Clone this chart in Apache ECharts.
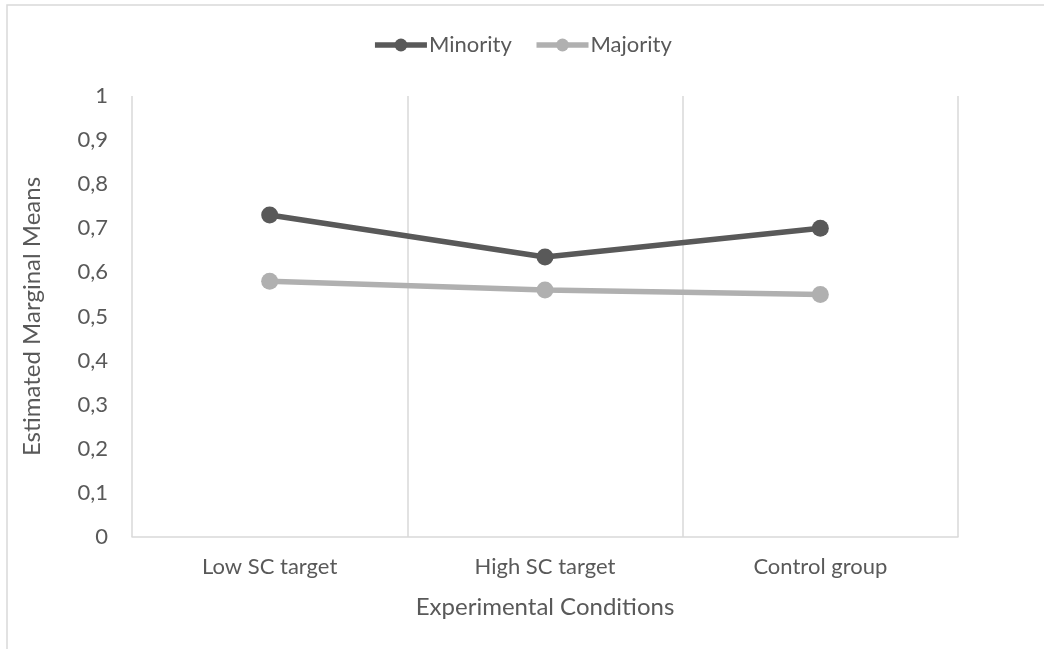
<!DOCTYPE html>
<html>
<head>
<meta charset="utf-8">
<script src="https://cdn.jsdelivr.net/npm/echarts@6/dist/echarts.min.js"></script>
<style>
  html, body { margin: 0; padding: 0; background: #fff; }
  #chart { width: 1044px; height: 649px; }
</style>
</head>
<body>
<div id="chart"></div>
<script>
// Estimated marginal means by experimental condition
const conditions = ['Low SC target', 'High SC target', 'Control group'];
const minority = [0.73, 0.635, 0.70];
const majority = [0.58, 0.56, 0.55];
const yTicks = { min: 0, max: 1, interval: 0.1 };

const textColor = '#595959';
const gridColor = '#d9d9d9';
const fontFamily = 'Lato, "Open Sans", sans-serif';

const chart = echarts.init(document.getElementById('chart'));
chart.setOption({
  animation: false,
  textStyle: { fontFamily: fontFamily, color: textColor },
  graphic: [{
    type: 'rect',
    shape: { x: 7, y: 5, width: 1100, height: 700 },
    style: { fill: 'none', stroke: gridColor, lineWidth: 1.5 },
    silent: true
  }],
  legend: {
    top: 29,
    left: 'center',
    itemWidth: 52,
    itemHeight: 16,
    itemGap: 22,
    lineStyle: { width: 5.5 },
    textStyle: { fontSize: 22, color: textColor, fontFamily: fontFamily, padding: [0, 0, 0, -3] },
    data: ['Minority', 'Majority']
  },
  grid: { left: 132, right: 86, top: 96, bottom: 112 },
  xAxis: {
    type: 'category',
    data: conditions,
    boundaryGap: true,
    name: 'Experimental Conditions',
    nameLocation: 'middle',
    nameGap: 58,
    nameTextStyle: { fontSize: 24, color: textColor },
    axisLine: { lineStyle: { color: gridColor, width: 1.5 } },
    axisTick: { show: false },
    axisLabel: { fontSize: 22, color: textColor, margin: 19 },
    splitLine: { show: true, lineStyle: { color: gridColor, width: 1.5 } }
  },
  yAxis: {
    type: 'value',
    min: yTicks.min,
    max: yTicks.max,
    interval: yTicks.interval,
    name: 'Estimated Marginal Means',
    nameLocation: 'middle',
    nameGap: 88,
    nameTextStyle: { fontSize: 24, color: textColor },
    axisLine: { show: false },
    axisTick: { show: false },
    splitLine: { show: false },
    axisLabel: {
      fontSize: 22,
      color: textColor,
      margin: 24,
      formatter: v => String(Math.round(v * 10) / 10).replace('.', ',')
    }
  },
  series: [
    {
      name: 'Minority',
      type: 'line',
      data: minority,
      symbol: 'circle',
      symbolSize: 17,
      lineStyle: { color: '#595959', width: 5.5 },
      itemStyle: { color: '#595959' }
    },
    {
      name: 'Majority',
      type: 'line',
      data: majority,
      symbol: 'circle',
      symbolSize: 17,
      lineStyle: { color: '#b0b0b0', width: 5.5 },
      itemStyle: { color: '#b0b0b0' }
    }
  ]
});
</script>
</body>
</html>
